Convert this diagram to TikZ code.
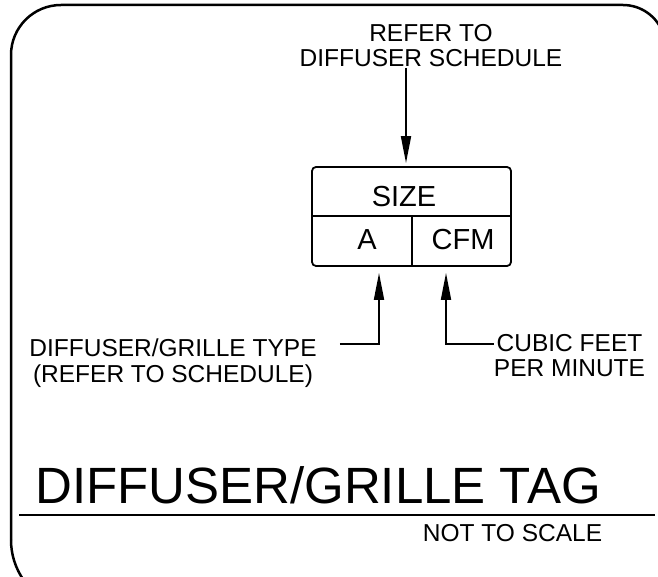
\documentclass[tikz,border=0pt]{standalone}
\usepackage{fontspec}
\setmainfont{Liberation Sans}
\usetikzlibrary{arrows.meta}
\begin{document}
\begin{tikzpicture}[x=1pt,y=1pt,
  lbl/.style={font=\fontsize{24.5}{25.5}\selectfont, inner sep=0pt, align=center},
  cell/.style={font=\fontsize{29}{30}\selectfont, inner sep=0pt},
  lead/.style={line width=1.8pt, -{Triangle[length=27pt,width=10pt]}},
  frame/.style={line width=2.5pt},
  thin/.style={line width=1.8pt}]
\useasboundingbox (0,0) rectangle (658,576);
% frame
\coordinate (f1) at (11,36);
\coordinate (f2) at (11,521);
\draw[frame] (f1) -- (f2) arc[start angle=180,end angle=90,radius=50] -- (623,571) arc[start angle=90,end angle=20,radius=42.5];
\draw[frame] (f1) arc[start angle=180,end angle=215,radius=70];
% tag box
\node[draw, thin, rounded corners=4pt, minimum width=199pt, minimum height=99pt, inner sep=0pt] (box) at (411.5,359.5) {};
\coordinate (dl) at (312,360);
\coordinate (dr) at (511,360);
\coordinate (dv) at (412,360);
\draw[thin] (dl) -- (dr);
\draw[thin] (dv) -- (dv |- box.south);
\node[cell, anchor=base] (size) at (404,369) {SIZE};
\node[cell, anchor=base] (a) at (367,326) {A};
\node[cell, anchor=base] (cfm) at (463,326) {CFM};
% top label
\node[lbl, anchor=north] (refer) at (431,552) {REFER TO\\DIFFUSER SCHEDULE};
\coordinate (ta) at (406,508);
\draw[lead, shorten >=3pt] (ta) -- (ta |- box.north);
% left label
\node[lbl, anchor=north] (type) at (173,237) {DIFFUSER/GRILLE TYPE\\(REFER TO SCHEDULE)};
\coordinate (lk) at (379,232);
\coordinate (ls) at ([xshift=23pt]type.east);
\draw[lead, shorten >=6pt] (ls |- lk) -- (lk) -- (lk |- box.south);
% right label
\node[lbl, anchor=north] (cubic) at (569.5,242) {CUBIC FEET\\PER MINUTE};
\coordinate (rk) at (446,232);
\draw[lead, shorten >=6pt] (cubic.west |- rk) -- (rk) -- (rk |- box.south);
% title
\node[font=\fontsize{51}{51}\selectfont, inner sep=0pt, anchor=base west] (title) at (35,73) {DIFFUSER/GRILLE TAG};
\coordinate (ul) at (19,61);
\coordinate (ur) at (655,61);
\draw[line width=2pt] (ul) -- (ur);
\node[lbl, anchor=base] (nts) at (512.5,35) {NOT TO SCALE};
\end{tikzpicture}
\end{document}
